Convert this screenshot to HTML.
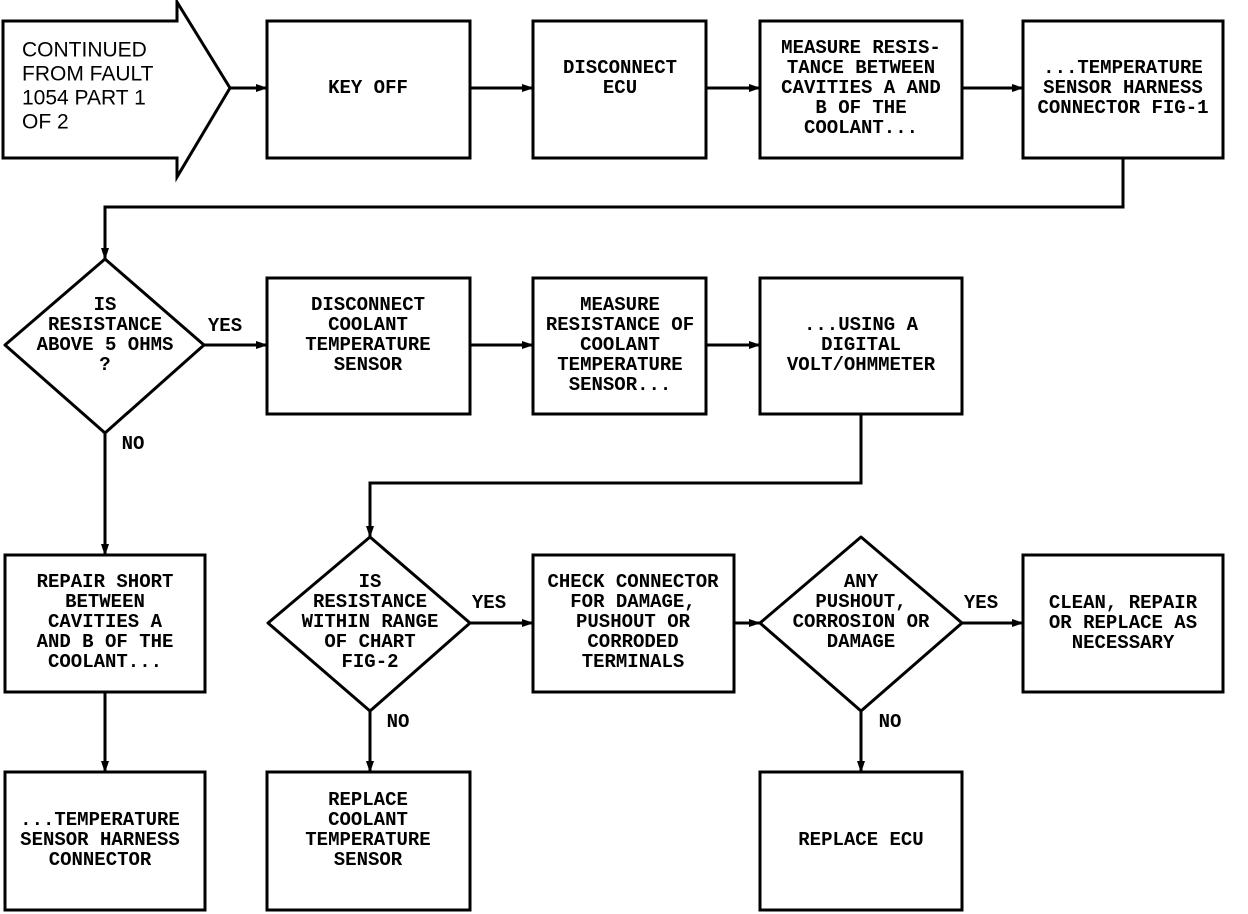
<!DOCTYPE html>
<html><head><meta charset="utf-8"><style>body{margin:0;background:#fff}svg{display:block}</style></head><body>
<svg width="1248" height="914" viewBox="0 0 1248 914" xmlns="http://www.w3.org/2000/svg">
<defs><marker id="a" markerWidth="12" markerHeight="10" refX="11" refY="5" orient="auto" markerUnits="userSpaceOnUse"><path d="M0,1 L12,5 L0,9 Z" fill="#000"/></marker></defs>
<g fill="none" stroke="#000" stroke-width="3">
<path d="M3,21 H177 V2 L230,88 L177,177 V158 H3 Z"/>
<rect x="267" y="21" width="203" height="137"/>
<rect x="533" y="21" width="173" height="137"/>
<rect x="760" y="21" width="202" height="137"/>
<rect x="1023" y="21" width="200" height="137"/>
<path d="M105,259 L204,345 L105,433 L5,345 Z" stroke-linejoin="round"/>
<rect x="267" y="278" width="203" height="136"/>
<rect x="533" y="278" width="173" height="136"/>
<rect x="760" y="278" width="202" height="136"/>
<rect x="5" y="555" width="200" height="137"/>
<path d="M370,537 L470,623 L370,711 L268,623 Z" stroke-linejoin="round"/>
<rect x="533" y="555" width="201" height="137"/>
<path d="M861,537 L962,623 L861,711 L760,623 Z" stroke-linejoin="round"/>
<rect x="1023" y="555" width="200" height="137"/>
<rect x="5" y="772" width="200" height="138"/>
<rect x="267" y="772" width="203" height="138"/>
<rect x="760" y="772" width="202" height="138"/>
</g>
<g fill="none" stroke="#000" stroke-width="3" marker-end="url(#a)">
<path d="M230,88 H267"/><path d="M470,88 H533"/><path d="M706,88 H760"/><path d="M962,88 H1023"/>
<path d="M1123,158 V207 H105 V259"/>
<path d="M204,345 H267"/><path d="M470,345 H533"/><path d="M706,345 H760"/>
<path d="M861,414 V483 H370 V537"/>
<path d="M105,433 V555"/><path d="M105,692 V772"/>
<path d="M470,623 H533"/><path d="M734,623 H760"/><path d="M962,623 H1023"/>
<path d="M370,711 V772"/><path d="M861,711 V772"/>
</g>
<g font-family="Liberation Sans, sans-serif" font-size="21" dominant-baseline="central">
<text x="22" y="50">CONTINUED</text><text x="22" y="74">FROM FAULT</text><text x="22" y="98">1054 PART 1</text><text x="22" y="122">OF 2</text>
</g>
<g font-family="Liberation Mono, monospace" font-size="19" font-weight="bold" text-anchor="middle" dominant-baseline="central">
<text x="368" y="88">KEY OFF</text>
<text x="620" y="68">DISCONNECT</text><text x="620" y="88">ECU</text>
<text x="861" y="48">MEASURE RESIS-</text><text x="861" y="68">TANCE BETWEEN</text><text x="861" y="88">CAVITIES A AND</text><text x="861" y="108">B OF THE</text><text x="861" y="128">COOLANT...</text>
<text x="1123" y="68">...TEMPERATURE</text><text x="1123" y="88">SENSOR HARNESS</text><text x="1123" y="108">CONNECTOR FIG-1</text>
<text x="105" y="305">IS</text><text x="105" y="325">RESISTANCE</text><text x="105" y="345">ABOVE 5 OHMS</text><text x="105" y="365">?</text>
<text x="225" y="326">YES</text><text x="133" y="444">NO</text>
<text x="368" y="305">DISCONNECT</text><text x="368" y="325">COOLANT</text><text x="368" y="345">TEMPERATURE</text><text x="368" y="365">SENSOR</text>
<text x="620" y="305">MEASURE</text><text x="620" y="325">RESISTANCE OF</text><text x="620" y="345">COOLANT</text><text x="620" y="365">TEMPERATURE</text><text x="620" y="385">SENSOR...</text>
<text x="861" y="325">...USING A</text><text x="861" y="345">DIGITAL</text><text x="861" y="365">VOLT/OHMMETER</text>
<text x="105" y="582">REPAIR SHORT</text><text x="105" y="602">BETWEEN</text><text x="105" y="622">CAVITIES A</text><text x="105" y="642">AND B OF THE</text><text x="105" y="662">COOLANT...</text>
<text x="370" y="582">IS</text><text x="370" y="602">RESISTANCE</text><text x="370" y="622">WITHIN RANGE</text><text x="370" y="642">OF CHART</text><text x="370" y="662">FIG-2</text>
<text x="489" y="603">YES</text><text x="398" y="722">NO</text>
<text x="633" y="582">CHECK CONNECTOR</text><text x="633" y="602">FOR DAMAGE,</text><text x="633" y="622">PUSHOUT OR</text><text x="633" y="642">CORRODED</text><text x="633" y="662">TERMINALS</text>
<text x="861" y="582">ANY</text><text x="861" y="602">PUSHOUT,</text><text x="861" y="622">CORROSION OR</text><text x="861" y="642">DAMAGE</text>
<text x="981" y="603">YES</text><text x="890" y="722">NO</text>
<text x="1123" y="603">CLEAN, REPAIR</text><text x="1123" y="623">OR REPLACE AS</text><text x="1123" y="643">NECESSARY</text>
<text x="100" y="820">...TEMPERATURE</text><text x="100" y="840">SENSOR HARNESS</text><text x="100" y="860">CONNECTOR</text>
<text x="368" y="800">REPLACE</text><text x="368" y="820">COOLANT</text><text x="368" y="840">TEMPERATURE</text><text x="368" y="860">SENSOR</text>
<text x="861" y="840">REPLACE ECU</text>
</g>
</svg>
</body></html>
